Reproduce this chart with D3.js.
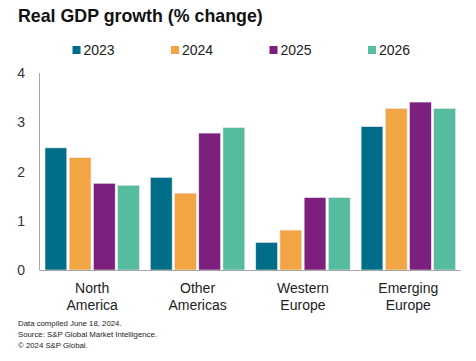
<!DOCTYPE html>
<html>
<head>
    <script src="https://d3js.org/d3.v7.min.js"></script>
    <style>
        body { margin: 0; background: #fff; }
        text { font-family: "Liberation Sans", Arial, sans-serif; }
    </style>
</head>
<body>
    <svg width="476" height="361"></svg>

    <script>
        // Regions (two-line labels) and the forecast years
        const regions = [["North", "America"], ["Other", "Americas"], ["Western", "Europe"], ["Emerging", "Europe"]];
        const years = ["2023", "2024", "2025", "2026"];
        const colors = ["#006e89", "#f3a443", "#7c1f7d", "#55bc9f"];

        // Real GDP growth, % change, one array per year
        const v2023 = [2.48, 1.88, 0.56, 2.91];
        const v2024 = [2.28, 1.56, 0.81, 3.28];
        const v2025 = [1.76, 2.78, 1.47, 3.41];
        const v2026 = [1.72, 2.89, 1.47, 3.28];
        const series = [v2023, v2024, v2025, v2026];

        const yTicks = [0, 1, 2, 3, 4];

        const svg = d3.select("svg");
        const plotLeft = 39.5, plotRight = 461, plotTop = 73, plotBottom = 270;

        const x0 = d3.scaleBand()
            .domain(d3.range(regions.length))
            .range([plotLeft, plotRight]);

        const x1 = d3.scaleBand()
            .domain(years)
            .range([5.5, x0.bandwidth() - 5.5])
            .paddingInner(0.1);

        const y = d3.scaleLinear()
            .domain([0, 4])
            .range([plotBottom, plotTop]);

        // Title
        svg.append("text")
            .attr("x", 18)
            .attr("y", 22)
            .attr("font-size", "17.8px")
            .attr("font-weight", "bold")
            .attr("fill", "#111")
            .text("Real GDP growth (% change)");

        // Legend
        const legendX = [72.5, 171, 269.5, 368];
        years.forEach((yr, i) => {
            svg.append("rect")
                .attr("x", legendX[i])
                .attr("y", 46)
                .attr("width", 8)
                .attr("height", 8)
                .attr("fill", colors[i]);
            svg.append("text")
                .attr("x", legendX[i] + 11)
                .attr("y", 55)
                .attr("font-size", "14px")
                .attr("fill", "#222")
                .text(yr);
        });

        // Bars
        const groups = svg.selectAll("g.region")
            .data(regions)
            .enter()
            .append("g")
            .attr("class", "region")
            .attr("transform", (d, i) => `translate(${x0(i)},0)`);

        groups.selectAll("rect")
            .data((d, i) => years.map((yr, k) => ({ year: yr, k: k, value: series[k][i] })))
            .enter()
            .append("rect")
            .attr("x", d => x1(d.year))
            .attr("y", d => y(d.value))
            .attr("width", x1.bandwidth())
            .attr("height", d => y(0) - y(d.value))
            .attr("fill", d => colors[d.k])
            .attr("stroke", "#e6e6e6")
            .attr("stroke-width", 0.6);

        // Axes lines
        svg.append("line")
            .attr("x1", plotLeft).attr("x2", plotLeft)
            .attr("y1", plotTop).attr("y2", plotBottom)
            .attr("stroke", "#a6a6a6");
        svg.append("line")
            .attr("x1", plotLeft).attr("x2", plotRight)
            .attr("y1", plotBottom + 0.5).attr("y2", plotBottom + 0.5)
            .attr("stroke", "#a6a6a6");

        // Y tick labels
        svg.selectAll("text.ytick")
            .data(yTicks)
            .enter()
            .append("text")
            .attr("class", "ytick")
            .attr("x", 25)
            .attr("y", d => y(d) + 5)
            .attr("text-anchor", "end")
            .attr("font-size", "14px")
            .attr("fill", "#333")
            .text(d => d);

        // X category labels
        regions.forEach((lines, i) => {
            const t = svg.append("text")
                .attr("x", x0(i) + x0.bandwidth() / 2)
                .attr("y", 293)
                .attr("text-anchor", "middle")
                .attr("font-size", "14px")
                .attr("fill", "#222");
            lines.forEach((ln, j) => {
                t.append("tspan")
                    .attr("x", x0(i) + x0.bandwidth() / 2)
                    .attr("dy", j === 0 ? 0 : 17)
                    .text(ln);
            });
        });

        // Footnotes
        const notes = ["Data compiled June 18, 2024.", "Source: S&P Global Market Intelligence.", "© 2024 S&P Global."];
        svg.selectAll("text.note")
            .data(notes)
            .enter()
            .append("text")
            .attr("class", "note")
            .attr("x", 18)
            .attr("y", (d, i) => 326 + i * 11)
            .attr("font-size", "7.8px")
            .attr("fill", "#222")
            .text(d => d);
    </script>
</body>
</html>
